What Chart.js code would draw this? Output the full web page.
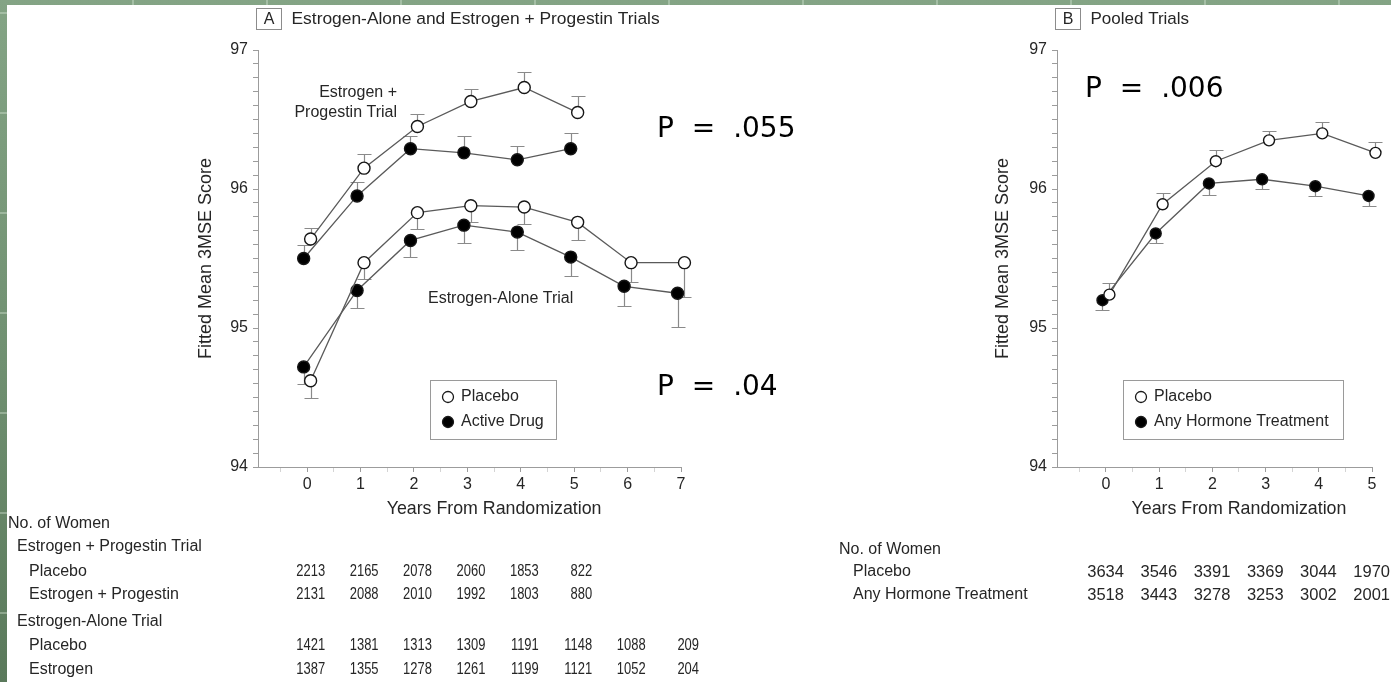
<!DOCTYPE html>
<html>
<head>
<meta charset="utf-8">
<title>3MSE scores by treatment</title>
<script src="https://cdn.jsdelivr.net/npm/chart.js@4.4.1/dist/chart.umd.min.js"></script>
<style>
  html, body { margin: 0; padding: 0; width: 1391px; height: 682px; overflow: hidden; }
  body {
    position: relative;
    background:
      repeating-linear-gradient(90deg, transparent 0 132px, rgba(225,240,225,0.35) 132px 134px),
      repeating-linear-gradient(180deg, transparent 0 12px, rgba(225,240,225,0.35) 12px 14px, transparent 14px 100px),
      linear-gradient(180deg, #84a485 0%, #6f8f70 55%, #5a795b 100%);
  }
  #sheet { position: absolute; left: 7px; top: 5px; right: 0; bottom: 0; background: #fff; }
  canvas { position: absolute; top: 0; }
  #chartA { left: 0; }
  #chartB { left: 820px; }
</style>
</head>
<body>
<div id="sheet"></div>
<canvas id="chartA" width="820" height="682"></canvas>
<canvas id="chartB" width="571" height="682"></canvas>
<script>
// ---- Years on the x axis ----
const yearsTrials = [0, 1, 2, 3, 4, 5, 6, 7];
const yearsPooled = [0, 1, 2, 3, 4, 5];
const yTickLabels = [94, 95, 96, 97];

// ---- Estrogen + Progestin trial: fitted mean 3MSE and SE ----
const epPlacebo    = [95.64, 96.15, 96.45, 96.63, 96.73, 96.55];
const epPlaceboSE  = [0.08, 0.10, 0.09, 0.09, 0.11, 0.12];
const epActive     = [95.50, 95.95, 96.29, 96.26, 96.21, 96.29];
const epActiveSE   = [0.10, 0.10, 0.09, 0.12, 0.10, 0.115];

// ---- Estrogen-alone trial ----
const eaPlacebo    = [94.62, 95.47, 95.83, 95.88, 95.87, 95.76, 95.47, 95.47];
const eaPlaceboSE  = [0.125, 0.12, 0.12, 0.12, 0.125, 0.125, 0.14, 0.25];
const eaActive     = [94.72, 95.27, 95.63, 95.74, 95.69, 95.51, 95.30, 95.25];
const eaActiveSE   = [0.125, 0.125, 0.12, 0.125, 0.13, 0.135, 0.14, 0.24];

// ---- Pooled trials ----
const pooledPlacebo   = [95.24, 95.89, 96.20, 96.35, 96.40, 96.26];
const pooledPlaceboSE = [0.085, 0.08, 0.08, 0.065, 0.08, 0.08];
const pooledActive    = [95.20, 95.68, 96.04, 96.07, 96.02, 95.95];
const pooledActiveSE  = [0.07, 0.065, 0.085, 0.07, 0.07, 0.07];

// ---- Number of women at each year ----
const nEpPlacebo     = [2213, 2165, 2078, 2060, 1853, 822];
const nEpActive      = [2131, 2088, 2010, 1992, 1803, 880];
const nEaPlacebo     = [1421, 1381, 1313, 1309, 1191, 1148, 1088, 209];
const nEaActive      = [1387, 1355, 1278, 1261, 1199, 1121, 1052, 204];
const nPooledPlacebo = [3634, 3546, 3391, 3369, 3044, 1970];
const nPooledActive  = [3518, 3443, 3278, 3253, 3002, 2001];

// ---- Look ----
const FONT = "'Liberation Sans', Arial, Helvetica, sans-serif";
const PFONT = "'DejaVu Sans', Verdana, sans-serif";
const TEXT = '#262626';
const AXIS = '#9c9c9c';
const LINE = '#5a5a5a';
const ERR = '#8a8a8a';
const DODGE = 0.065;   // placebo drawn slightly right, active slightly left

function series(label, xs, ys, se, dir, filled, dodge, radius) {
  return {
    label,
    data: ys.map((v, i) => ({ x: xs[i] + dodge, y: v })),
    se, seDir: dir,
    showLine: true,
    clip: false,
    borderColor: LINE,
    borderWidth: 1.3,
    pointRadius: radius,
    pointHoverRadius: radius,
    pointBackgroundColor: filled ? '#000' : '#fff',
    pointBorderColor: '#161616',
    pointBorderWidth: 1.4,
    fill: false,
    tension: 0
  };
}

// Standard-error whiskers, one direction per series, drawn under the markers
const errorBars = {
  id: 'errorBars',
  beforeDatasetsDraw(chart) {
    const { ctx, scales: { x, y } } = chart;
    ctx.save();
    ctx.strokeStyle = ERR;
    ctx.lineWidth = 1.2;
    chart.data.datasets.forEach(ds => {
      ds.data.forEach((p, i) => {
        const px = Math.round(x.getPixelForValue(p.x)) + 0.5;
        const y0 = y.getPixelForValue(p.y);
        const y1 = Math.round(y.getPixelForValue(p.y + ds.seDir * ds.se[i])) + 0.5;
        ctx.beginPath();
        ctx.moveTo(px, y0);
        ctx.lineTo(px, y1);
        ctx.moveTo(px - 7, y1);
        ctx.lineTo(px + 7, y1);
        ctx.stroke();
      });
    });
    ctx.restore();
  }
};

// Panel letter/title, axis title, in-plot notes, P values, legend box and the numbers-at-risk table
const panelText = {
  id: 'panelText',
  afterDraw(chart, args, opts) {
    const { ctx, chartArea, scales: { x } } = chart;
    ctx.save();
    ctx.fillStyle = TEXT;
    ctx.textBaseline = 'middle';

    // panel heading
    const bx = Math.round(chartArea.left) - 1.5;
    ctx.strokeStyle = '#8c8c8c';
    ctx.lineWidth = 1;
    ctx.strokeRect(bx, 8.5, 25, 21);
    ctx.font = `16px ${FONT}`;
    ctx.textAlign = 'center';
    ctx.fillText(opts.letter, bx + 12.5, 19.5);
    ctx.textAlign = 'left';
    ctx.font = `${opts.titleSize}px ${FONT}`;
    ctx.fillText(opts.title, bx + 35, 19);

    // x-axis title, centred over the year ticks
    ctx.textAlign = 'center';
    ctx.font = `17.8px ${FONT}`;
    const xc = (x.getPixelForValue(opts.years[0]) + x.getPixelForValue(opts.years[opts.years.length - 1])) / 2;
    ctx.fillText('Years From Randomization', xc, 509);

    // notes inside the plot
    (opts.notes || []).forEach(n => {
      ctx.font = `16px ${FONT}`;
      ctx.textAlign = n.align || 'left';
      ctx.fillText(n.text, n.x, n.y);
    });

    // P values
    ctx.fillStyle = '#000';
    ctx.textAlign = 'left';
    ctx.textBaseline = 'alphabetic';
    ctx.font = `28px ${PFONT}`;
    if ('wordSpacing' in ctx) ctx.wordSpacing = '9px';
    (opts.pValues || []).forEach(p => ctx.fillText(p.text, p.x, p.y));
    if ('wordSpacing' in ctx) ctx.wordSpacing = '0px';

    // legend
    const lg = opts.legend;
    ctx.strokeStyle = '#9a9a9a';
    ctx.lineWidth = 1;
    ctx.strokeRect(lg.x + 0.5, lg.y + 0.5, lg.w, lg.h);
    ctx.textBaseline = 'middle';
    ctx.font = `16px ${FONT}`;
    lg.items.forEach((it, i) => {
      const cy = lg.y + 17 + i * 25;
      ctx.beginPath();
      ctx.arc(lg.x + 18, cy, 5.5, 0, Math.PI * 2);
      ctx.fillStyle = it.filled ? '#000' : '#fff';
      ctx.fill();
      ctx.strokeStyle = '#1a1a1a';
      ctx.lineWidth = 1.3;
      ctx.stroke();
      ctx.fillStyle = TEXT;
      ctx.fillText(it.label, lg.x + 31, cy);
    });

    // numbers of women under each year (right-aligned just past each tick)
    const tb = opts.table;
    tb.rows.forEach(r => {
      ctx.textAlign = 'left';
      ctx.font = `16px ${FONT}`;
      ctx.fillStyle = TEXT;
      ctx.fillText(r.label, r.x, r.y);
      if (r.counts) {
        ctx.textAlign = 'right';
        ctx.font = `${tb.numSize}px ${FONT}`;
        r.counts.forEach((n, i) => {
          ctx.save();
          ctx.translate(x.getPixelForValue(opts.years[i]) + 18, r.y);
          ctx.scale(tb.numSquash, 1);
          ctx.fillText(String(n), 0, 0);
          ctx.restore();
        });
      }
    });
    ctx.restore();
  }
};

function makeOptions(cfg) {
  const minorY = [];
  for (let i = 0; i <= 30; i++) minorY.push(yTickLabels[0] + i / 10);
  const halfX = [];
  for (let v = -0.5; v <= cfg.xMax + 1e-9; v += 0.5) halfX.push(v);
  cfg.text.years = cfg.years;
  return {
    responsive: false,
    animation: false,
    events: [],
    layout: { padding: { left: cfg.padLeft, top: 50, right: cfg.padRight, bottom: 163 } },
    plugins: {
      legend: { display: false },
      tooltip: { enabled: false },
      panelText: cfg.text
    },
    scales: {
      x: {
        type: 'linear',
        min: -0.92,
        max: cfg.xMax,
        afterBuildTicks: s => { s.ticks = halfX.map(v => ({ value: v })); },
        afterFit: s => { s.height = 52; },
        ticks: {
          autoSkip: false, maxRotation: 0, padding: 3,
          color: TEXT, font: { family: FONT, size: 16 },
          callback: v => (Math.abs(v - Math.round(v)) < 1e-6 && cfg.years.includes(Math.round(v))) ? String(Math.round(v)) : ''
        },
        grid: {
          drawOnChartArea: false, drawTicks: true, tickLength: 5, color: AXIS,
          tickColor: c => (c.tick && Math.abs(c.tick.value - Math.round(c.tick.value)) < 1e-6) ? AXIS : '#d4d4d4'
        },
        border: { color: AXIS, width: 1 },
        title: { display: false }
      },
      y: {
        type: 'linear',
        min: yTickLabels[0],
        max: yTickLabels[yTickLabels.length - 1],
        afterBuildTicks: s => { s.ticks = minorY.map(v => ({ value: v })); },
        afterFit: s => { s.width = cfg.yAxisWidth; },
        ticks: {
          autoSkip: false, padding: 5,
          color: TEXT, font: { family: FONT, size: 16 },
          callback: v => {
            const r = Math.round(v);
            return (Math.abs(v - r) < 1e-6 && yTickLabels.includes(r)) ? String(r) : '';
          }
        },
        grid: { drawOnChartArea: false, drawTicks: true, tickLength: 5, color: AXIS },
        border: { color: AXIS, width: 1 },
        title: {
          display: true, text: 'Fitted Mean 3MSE Score',
          color: TEXT, font: { family: FONT, size: 18 }, padding: { top: 0, bottom: 0 }
        }
      }
    }
  };
}

// ---- Panel A: the two trials ----
new Chart(document.getElementById('chartA'), {
  type: 'scatter',
  data: {
    datasets: [
      series('E+P placebo', yearsTrials, epPlacebo, epPlaceboSE, 1, false, DODGE, 6),
      series('E+P active', yearsTrials, epActive, epActiveSE, 1, true, -DODGE, 6),
      series('E-alone placebo', yearsTrials, eaPlacebo, eaPlaceboSE, -1, false, DODGE, 6),
      series('E-alone active', yearsTrials, eaActive, eaActiveSE, -1, true, -DODGE, 6)
    ]
  },
  options: makeOptions({
    xMax: 7, years: yearsTrials, padLeft: 195, yAxisWidth: 63, padRight: 139,
    text: {
      letter: 'A',
      title: 'Estrogen-Alone and Estrogen + Progestin Trials',
      titleSize: 17.4,
      notes: [
        { text: 'Estrogen +', x: 397, y: 93, align: 'right' },
        { text: 'Progestin Trial', x: 397, y: 113, align: 'right' },
        { text: 'Estrogen-Alone Trial', x: 428, y: 299, align: 'left' }
      ],
      pValues: [
        { text: 'P = .055', x: 657, y: 137 },
        { text: 'P = .04', x: 657, y: 395 }
      ],
      legend: {
        x: 430, y: 380, w: 126, h: 59,
        items: [{ label: 'Placebo', filled: false }, { label: 'Active Drug', filled: true }]
      },
      table: {
        numSize: 16, numSquash: 0.81,
        rows: [
          { label: 'No. of Women', x: 8, y: 524 },
          { label: 'Estrogen + Progestin Trial', x: 17, y: 547 },
          { label: 'Placebo', x: 29, y: 572, counts: nEpPlacebo },
          { label: 'Estrogen + Progestin', x: 29, y: 595, counts: nEpActive },
          { label: 'Estrogen-Alone Trial', x: 17, y: 622 },
          { label: 'Placebo', x: 29, y: 646, counts: nEaPlacebo },
          { label: 'Estrogen', x: 29, y: 670, counts: nEaActive }
        ]
      }
    }
  }),
  plugins: [errorBars, panelText]
});

// ---- Panel B: pooled trials ----
new Chart(document.getElementById('chartB'), {
  type: 'scatter',
  data: {
    datasets: [
      series('Pooled placebo', yearsPooled, pooledPlacebo, pooledPlaceboSE, 1, false, DODGE, 5.5),
      series('Pooled hormone', yearsPooled, pooledActive, pooledActiveSE, -1, true, -DODGE, 5.5)
    ]
  },
  options: makeOptions({
    xMax: 5, years: yearsPooled, padLeft: 172, yAxisWidth: 65, padRight: 19,
    text: {
      letter: 'B',
      title: 'Pooled Trials',
      titleSize: 17,
      notes: [],
      pValues: [{ text: 'P = .006', x: 265, y: 97 }],
      legend: {
        x: 303, y: 380, w: 220, h: 59,
        items: [{ label: 'Placebo', filled: false }, { label: 'Any Hormone Treatment', filled: true }]
      },
      table: {
        numSize: 16.5, numSquash: 1,
        rows: [
          { label: 'No. of Women', x: 19, y: 550 },
          { label: 'Placebo', x: 33, y: 572, counts: nPooledPlacebo },
          { label: 'Any Hormone Treatment', x: 33, y: 595, counts: nPooledActive }
        ]
      }
    }
  }),
  plugins: [errorBars, panelText]
});
</script>
</body>
</html>
